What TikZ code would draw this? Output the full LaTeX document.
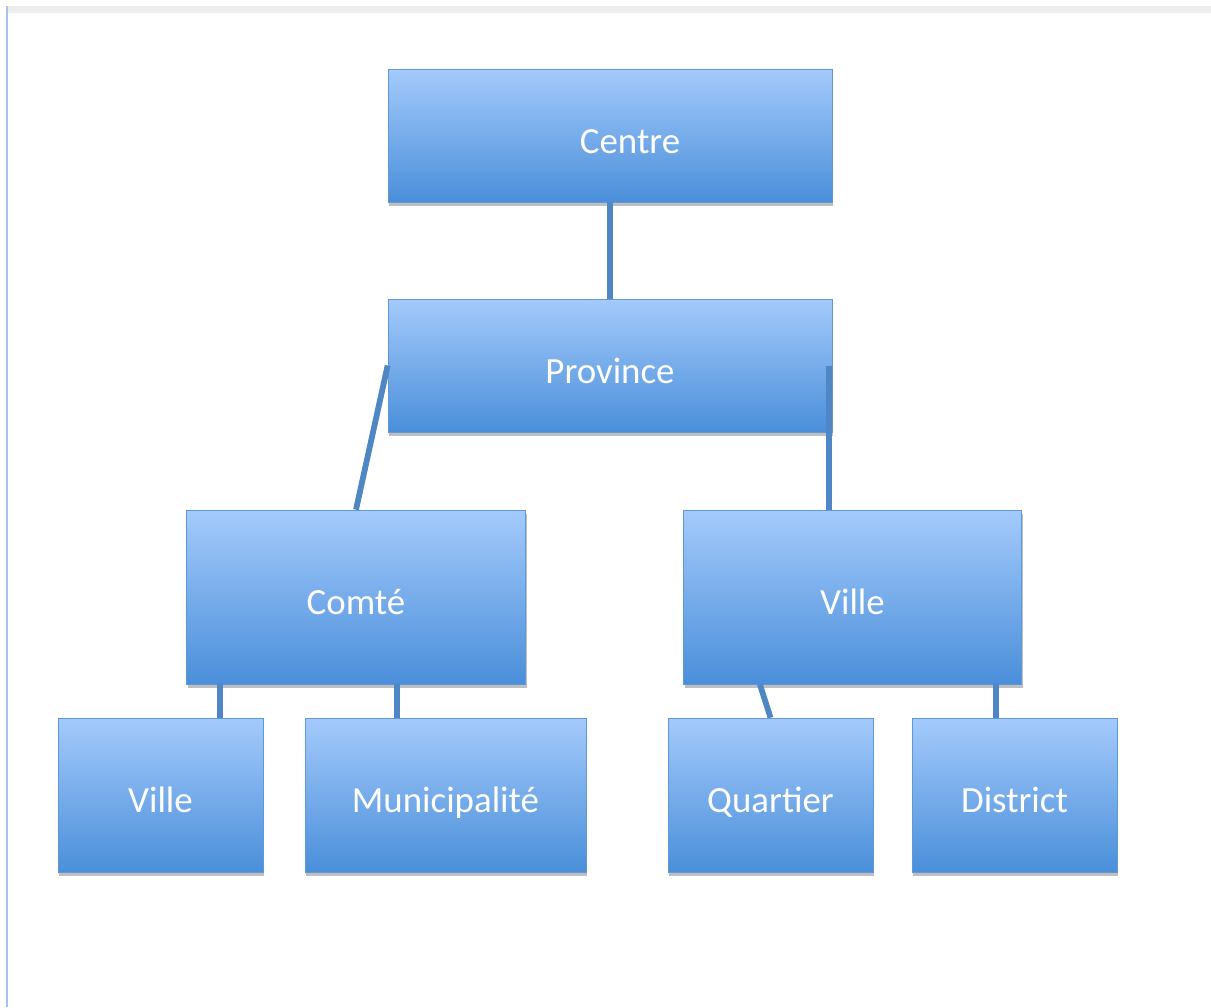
\documentclass[tikz,border=0pt]{standalone}
\usepackage{fontspec}
\setmainfont{Carlito}
\usetikzlibrary{shadows,calc}

\definecolor{boxtop}{HTML}{A4CAFB}
\definecolor{boxbottom}{HTML}{4A8FDA}
\definecolor{boxline}{HTML}{5E98D6}
\definecolor{linkblue}{HTML}{4E87C4}
\definecolor{frameblue}{HTML}{A9C1EE}

\begin{document}
\begin{tikzpicture}[
  % Node styles
  unit/.style={rectangle, top color=boxtop, bottom color=boxbottom, draw=boxline, line width=0.4pt,
    text=white, font=\fontsize{21}{25}\selectfont, inner sep=0pt, text height=0.75cm, text depth=0.05cm,
    drop shadow={shadow xshift=0.8pt, shadow yshift=-2pt, fill=black, opacity=0.25}},
  wide/.style={unit, minimum width=8.88cm, minimum height=2.66cm},
  middle/.style={unit, minimum width=6.77cm, minimum height=3.48cm},
  small/.style={unit, minimum width=4.1cm, minimum height=3.08cm},
  % Edge style
  link/.style={linkblue, line width=3.3pt},
]

% === FRAME ===
\useasboundingbox (0,0) rectangle (24.22,-20.14);
\fill[black!7] (0.16,-0.12) rectangle (24.22,-0.26);
\draw[frameblue, line width=1.3pt] (0.14,-0.12) -- (0.14,-20.14);

% === TOP ===
\node[wide] (centre)   at (12.2,-2.71) {\hspace*{0.8cm}Centre};
\node[wide] (province) at (12.2,-7.31) {Province};

% === MIDDLE ===
\node[middle] (comte)  at (7.12,-11.94)  {Comté};
\node[middle] (villeR) at (17.05,-11.94) {Ville};

% === BOTTOM ===
\node[small] (villeL)   at (3.21,-15.9)  {Ville};
\node[small, minimum width=5.62cm] (muni) at (8.91,-15.9) {Municipalité};
\node[small] (quartier) at (15.41,-15.9) {Quartier};
\node[small] (district) at (20.29,-15.9) {District};

% === LINK FEET ===
\coordinate (provR)  at ([xshift=-0.06cm]province.east);
\coordinate (comteA) at ($(comte.south west)!0.1!(comte.south east)$);
\coordinate (comteB) at ($(comte.south west)!0.62!(comte.south east)$);
\coordinate (villeA) at ($(villeR.south west)!0.227!(villeR.south east)$);
\coordinate (villeB) at ($(villeR.south west)!0.923!(villeR.south east)$);

% ============================================================
% LINKS
% ============================================================
\draw[link] (centre) -- (province);
\draw[link] (province.west) -- (comte.north);
\draw[link] (provR) -- (provR |- villeR.north);
\draw[link] (comteA) -- (comteA |- villeL.north);
\draw[link] (comteB) -- (comteB |- muni.north);
\draw[link] (villeA) -- (quartier.north);
\draw[link] (villeB) -- (villeB |- district.north);

\end{tikzpicture}
\end{document}
